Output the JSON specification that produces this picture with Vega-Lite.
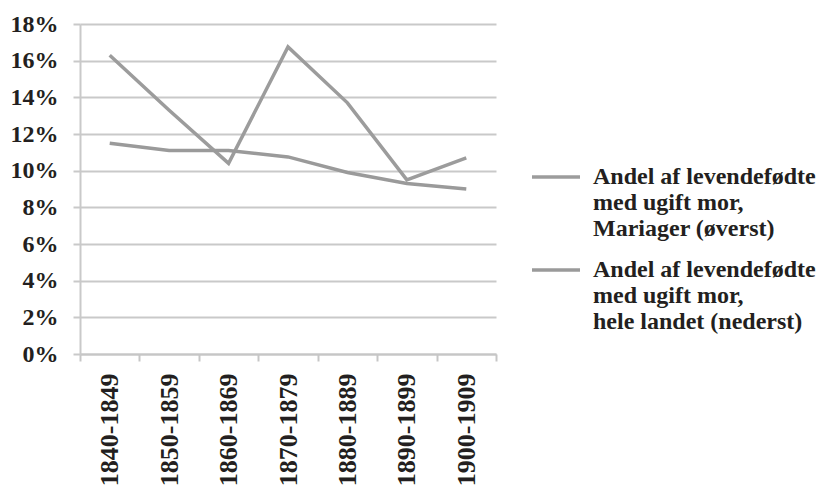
{
  "$schema": "https://vega.github.io/schema/vega-lite/v6.json",
  "width": 416,
  "height": 330,
  "autosize": {"type": "none"},
  "padding": {"left": 80, "top": 24, "right": 330, "bottom": 134},
  "background": "#ffffff",
  "data": {
    "values": [
      {"period": "1840-1849", "series": "Andel af levendefødte|med ugift mor,|Mariager (øverst)", "value": 0.163},
      {"period": "1850-1859", "series": "Andel af levendefødte|med ugift mor,|Mariager (øverst)", "value": 0.133},
      {"period": "1860-1869", "series": "Andel af levendefødte|med ugift mor,|Mariager (øverst)", "value": 0.104},
      {"period": "1870-1879", "series": "Andel af levendefødte|med ugift mor,|Mariager (øverst)", "value": 0.1675},
      {"period": "1880-1889", "series": "Andel af levendefødte|med ugift mor,|Mariager (øverst)", "value": 0.137},
      {"period": "1890-1899", "series": "Andel af levendefødte|med ugift mor,|Mariager (øverst)", "value": 0.095},
      {"period": "1900-1909", "series": "Andel af levendefødte|med ugift mor,|Mariager (øverst)", "value": 0.107},
      {"period": "1840-1849", "series": "Andel af levendefødte|med ugift mor,|hele landet (nederst)", "value": 0.115},
      {"period": "1850-1859", "series": "Andel af levendefødte|med ugift mor,|hele landet (nederst)", "value": 0.111},
      {"period": "1860-1869", "series": "Andel af levendefødte|med ugift mor,|hele landet (nederst)", "value": 0.111},
      {"period": "1870-1879", "series": "Andel af levendefødte|med ugift mor,|hele landet (nederst)", "value": 0.1075},
      {"period": "1880-1889", "series": "Andel af levendefødte|med ugift mor,|hele landet (nederst)", "value": 0.099},
      {"period": "1890-1899", "series": "Andel af levendefødte|med ugift mor,|hele landet (nederst)", "value": 0.093},
      {"period": "1900-1909", "series": "Andel af levendefødte|med ugift mor,|hele landet (nederst)", "value": 0.09}
    ]
  },
  "mark": {"type": "line", "strokeWidth": 3.5, "strokeJoin": "miter"},
  "encoding": {
    "x": {
      "field": "period",
      "type": "nominal",
      "title": null,
      "scale": {"paddingInner": 0, "paddingOuter": 0},
      "axis": {
        "labelAngle": -90,
        "labelAlign": "right",
        "labelBaseline": "middle",
        "labelPadding": 12,
        "tickBand": "extent",
        "tickSize": 7,
        "tickColor": "#c6c6c6",
        "tickWidth": 2,
        "domainColor": "#c6c6c6",
        "domainWidth": 2,
        "labelFont": "Liberation Serif",
        "labelFontWeight": "bold",
        "labelFontSize": 26,
        "labelColor": "#231f20"
      }
    },
    "y": {
      "field": "value",
      "type": "quantitative",
      "title": null,
      "scale": {"domain": [0, 0.18], "nice": false},
      "axis": {
        "values": [0, 0.02, 0.04, 0.06, 0.08, 0.1, 0.12, 0.14, 0.16, 0.18],
        "format": ".0%",
        "grid": true,
        "gridColor": "#c9c9c9",
        "gridWidth": 2,
        "tickSize": 7,
        "tickColor": "#c9c9c9",
        "tickWidth": 2,
        "domainColor": "#c9c9c9",
        "domainWidth": 2,
        "labelPadding": 15,
        "labelFont": "Liberation Serif",
        "labelFontWeight": "bold",
        "labelFontSize": 24,
        "labelColor": "#231f20"
      }
    },
    "color": {
      "field": "series",
      "type": "nominal",
      "scale": {
        "domain": ["Andel af levendefødte|med ugift mor,|Mariager (øverst)", "Andel af levendefødte|med ugift mor,|hele landet (nederst)"],
        "range": ["#9c9c9c", "#9a9a9a"]
      },
      "legend": {
        "title": null,
        "orient": "none",
        "legendX": 450,
        "legendY": 127,
        "padding": 0,
        "labelExpr": "split(datum.label, '|')",
        "labelFont": "Liberation Serif",
        "labelFontWeight": "bold",
        "labelFontSize": 24,
        "labelColor": "#231f20",
        "labelLimit": 400,
        "labelOffset": 11,
        "symbolType": "stroke",
        "symbolSize": 2304,
        "symbolStrokeWidth": 3.5,
        "rowPadding": 3
      }
    }
  },
  "config": {
    "view": {"stroke": null}
  }
}
